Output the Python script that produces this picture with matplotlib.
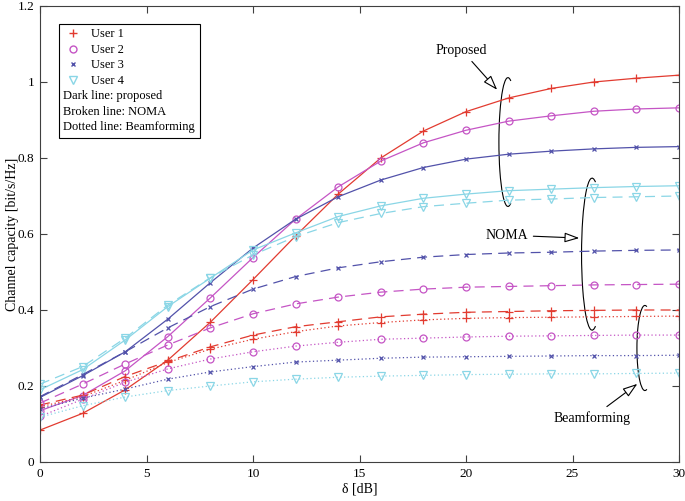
import matplotlib.pyplot as plt
from matplotlib.patches import Arc
from matplotlib.lines import Line2D

plt.rcParams['font.family'] = ['Liberation Serif', 'DejaVu Serif']

# delta [dB]
delta_db = [0, 2, 4, 6, 8, 10, 12, 14, 16, 18, 20, 22, 24, 26, 28, 30]

# proposed (solid)
proposed_u1 = [0.084, 0.128, 0.190, 0.268, 0.368, 0.480, 0.595, 0.705, 0.800, 0.871, 0.922, 0.958, 0.983, 1.000, 1.010, 1.018]
proposed_u2 = [0.135, 0.175, 0.240, 0.330, 0.432, 0.538, 0.639, 0.724, 0.792, 0.840, 0.873, 0.897, 0.911, 0.923, 0.929, 0.932]
proposed_u3 = [0.170, 0.227, 0.290, 0.376, 0.472, 0.563, 0.639, 0.698, 0.742, 0.775, 0.797, 0.810, 0.818, 0.824, 0.828, 0.830]
proposed_u4 = [0.190, 0.243, 0.321, 0.409, 0.484, 0.558, 0.603, 0.646, 0.674, 0.694, 0.705, 0.714, 0.718, 0.722, 0.725, 0.727]

# NOMA (dashed)
noma_u1 = [0.150, 0.176, 0.225, 0.265, 0.303, 0.334, 0.356, 0.369, 0.382, 0.389, 0.394, 0.396, 0.398, 0.399, 0.400, 0.400]
noma_u2 = [0.155, 0.205, 0.258, 0.308, 0.353, 0.390, 0.416, 0.434, 0.447, 0.455, 0.460, 0.462, 0.464, 0.466, 0.467, 0.468]
noma_u3 = [0.172, 0.230, 0.290, 0.353, 0.409, 0.455, 0.488, 0.511, 0.527, 0.539, 0.546, 0.550, 0.552, 0.555, 0.557, 0.558]
noma_u4 = [0.205, 0.251, 0.326, 0.413, 0.485, 0.545, 0.593, 0.630, 0.654, 0.672, 0.681, 0.689, 0.692, 0.696, 0.698, 0.700]

# beamforming (dotted)
bf_u1 = [0.145, 0.172, 0.215, 0.262, 0.297, 0.323, 0.343, 0.358, 0.367, 0.374, 0.378, 0.380, 0.381, 0.382, 0.383, 0.384]
bf_u2 = [0.120, 0.165, 0.210, 0.245, 0.271, 0.290, 0.305, 0.315, 0.323, 0.326, 0.329, 0.331, 0.332, 0.333, 0.334, 0.334]
bf_u3 = [0.140, 0.168, 0.192, 0.218, 0.237, 0.251, 0.263, 0.268, 0.273, 0.276, 0.277, 0.278, 0.279, 0.280, 0.280, 0.281]
bf_u4 = [0.118, 0.148, 0.171, 0.188, 0.200, 0.211, 0.218, 0.223, 0.226, 0.228, 0.230, 0.231, 0.232, 0.232, 0.233, 0.234]

user_labels = ['User 1', 'User 2', 'User 3', 'User 4']
note_labels = ['Dark line: proposed', 'Broken line: NOMA', 'Dotted line: Beamforming']
x_ticks = [0, 5, 10, 15, 20, 25, 30]
y_ticks = [0, 0.2, 0.4, 0.6, 0.8, 1.0, 1.2]
y_tick_labels = ['0', '0.2', '0.4', '0.6', '0.8', '1', '1.2']

colors = ['#e23b30', '#c555c5', '#5252aa', '#8ad6e6']
markers = ['+', 'o', 'x', 'v']
msizes = [6, 5, 3.5, 6]

fig = plt.figure(figsize=(6.85, 5.01), dpi=100)
ax = fig.add_axes([40 / 685, 1 - 462 / 501, 639 / 685, 456 / 501])

groups = [
    ([proposed_u1, proposed_u2, proposed_u3, proposed_u4], '-'),
    ([noma_u1, noma_u2, noma_u3, noma_u4], (0, (8, 5))),
    ([bf_u1, bf_u2, bf_u3, bf_u4], (0, (1, 2))),
]
for series, ls in groups:
    for vals, c, m, ms in zip(series, colors, markers, msizes):
        ax.plot(delta_db, vals, color=c, linestyle=ls, linewidth=0.9,
                marker=m, markersize=ms, markerfacecolor='none',
                markeredgecolor=c, markeredgewidth=0.9)

ax.set_xlim(0, 30)
ax.set_ylim(0, 1.2)
ax.set_xticks(x_ticks)
ax.set_yticks(y_ticks)
ax.set_yticklabels(y_tick_labels)
ax.tick_params(direction='in', top=True, right=True, length=5,
               labelsize=9.5, color='#404040', pad=4)
for sp in ax.spines.values():
    sp.set_color('#404040')
ax.set_xlabel('δ [dB]', fontsize=10, labelpad=2)
ax.set_ylabel('Channel capacity [bit/s/Hz]', fontsize=10, labelpad=-1)

# legend: markers for users, then plain text notes
handles = [Line2D([], [], linestyle='none', marker=m, markersize=ms,
                  markerfacecolor='none', markeredgecolor=c)
           for c, m, ms in zip(colors, markers, msizes)]
handles += [Line2D([], [], linestyle='none') for _ in note_labels]
leg = ax.legend(handles, user_labels + note_labels, loc='upper left',
                bbox_to_anchor=(19 / 639, 438 / 456), borderaxespad=0,
                fontsize=9, fancybox=False, edgecolor='black',
                framealpha=1, handlelength=1.6, handletextpad=0.6,
                labelspacing=0.28, borderpad=0.35)
leg.get_frame().set_linewidth(0.8)
column = leg._legend_handle_box.get_children()[0]
for row in column.get_children()[4:]:
    row.get_children()[0].width = 0
    row.sep = 0

arrow = dict(arrowstyle='-|>,head_length=0.9,head_width=0.3',
             facecolor='white', edgecolor='black', linewidth=0.8)
ax.annotate('Proposed', xy=(21.55, 0.974), xytext=(19.8, 1.084),
            ha='center', va='center', fontsize=10, arrowprops=arrow)
ax.annotate('NOMA', xy=(25.45, 0.589), xytext=(21.9, 0.597),
            ha='center', va='center', fontsize=10, arrowprops=arrow)
ax.annotate('Beamforming', xy=(28.15, 0.21), xytext=(25.9, 0.116),
            ha='center', va='center', fontsize=10, arrowprops=arrow)

ax.add_patch(Arc((21.97, 0.842), 0.85, 0.339, theta1=50, theta2=310,
                 color='black', linewidth=0.8))
ax.add_patch(Arc((25.92, 0.547), 0.99, 0.40, theta1=50, theta2=310,
                 color='black', linewidth=0.8))
ax.add_patch(Arc((28.40, 0.30), 0.75, 0.224, theta1=50, theta2=310,
                 color='black', linewidth=0.8))

fig.savefig('out.png', dpi=100)
